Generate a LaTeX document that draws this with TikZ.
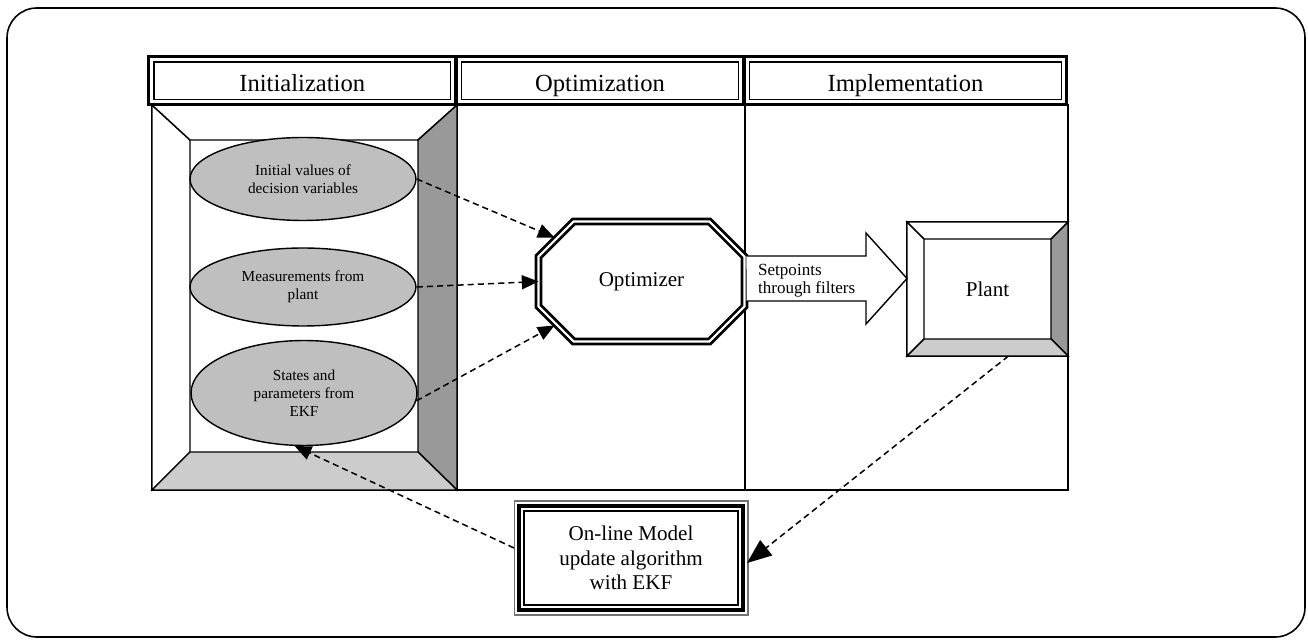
\documentclass[tikz,border=0pt]{standalone}
\usepackage{fontspec}
\setmainfont{Liberation Serif}
\usetikzlibrary{arrows.meta, positioning, shapes.geometric, calc}

\begin{document}
\begin{tikzpicture}[
    x=0.02cm, y=-0.02cm, line width=0.8pt,
    hdr/.style={draw, line width=1.7pt, outer sep=0pt, inner sep=0pt, minimum height=0.96cm, text height=13pt, text depth=0pt, font=\fontsize{14}{16}\selectfont},
    src/.style={ellipse, draw, fill=black!25, minimum width=4.52cm, inner sep=0pt, align=center, font=\fontsize{8.7}{10.2}\selectfont},
    proc/.style={align=center, inner sep=0pt, outer sep=0pt, font=\fontsize{12}{14}\selectfont},
    dbl/.style={draw, double, double distance=1.2pt, line width=1.6pt},
    darkside/.style={draw, fill=black!40},
    lightside/.style={draw, fill=black!20},
    dasharr/.style={-{Triangle[length=9.5pt,width=8pt]}, dash pattern=on 3.5pt off 2.3pt, line width=0.85pt},
]
\useasboundingbox (0,0) rectangle (1308,641);

% frame
\draw[line width=0.9pt, rounded corners=17pt] (7,8) rectangle (1305,637);

% columns
\draw (152,105) rectangle (1068,490);
\draw (457,105) -- (457,490);
\draw (745,105) -- (745,490);

% initialization frame
\draw[fill=white] (152,105) -- (190,140) -- (190,452) -- (152,490) -- cycle;
\draw[fill=white] (152,105) -- (190,140) -- (418,140) -- (457,105) -- cycle;
\draw[darkside] (457,105) -- (418,140) -- (418,452) -- (457,490) -- cycle;
\draw[lightside] (152,490) -- (190,452) -- (418,452) -- (457,490) -- cycle;

% headers
\node[hdr, minimum width=6.15cm] (hinit) at (302.25,80.5) {Initialization};
\node[hdr, minimum width=5.76cm] (hopt) at (600,80.5) {Optimization};
\node[hdr, minimum width=6.46cm] (himp) at (905.5,80.5) {Implementation};
\foreach \h in {hinit,hopt,himp}
    \draw[line width=0.9pt] ($(\h.north west)+(5.5,5.5)$) rectangle ($(\h.south east)+(-5.5,-5)$);

% sources
\node[src, minimum height=1.66cm] (e1) at (303,179) {Initial values of\\decision variables};
\node[src, minimum height=1.56cm] (e2) at (303,287) {Measurements from\\plant};
\node[src, minimum height=2.1cm] (e3) at (304,393) {States and\\parameters from\\EKF};

% optimizer
\node[proc, minimum width=4.12cm, minimum height=2.4cm] (opt) at (641.5,281.5) {Optimizer};
\draw[dbl] ($(opt.north west)+(35,0)$) -- ($(opt.north east)+(-35,0)$) -- ($(opt.north east)+(0,35)$)
    -- ($(opt.south east)+(0,-35)$) -- ($(opt.south east)+(-35,0)$) -- ($(opt.south west)+(35,0)$)
    -- ($(opt.south west)+(0,-35)$) -- ($(opt.north west)+(0,35)$) -- cycle;
\coordinate (opt-nw) at ($(opt.north west)+(16,16)$);
\coordinate (opt-sw) at ($(opt.south west)+(16,-16)$);

% plant
\node[proc, draw, minimum width=3.22cm, minimum height=2.68cm] (plant) at (987.5,289) {Plant};
\draw[fill=white] (plant.north west) -- ($(plant.north west)+(17,17)$) -- ($(plant.south west)+(17,-17)$) -- (plant.south west) -- cycle;
\draw[fill=white] (plant.north west) -- ($(plant.north west)+(17,17)$) -- ($(plant.north east)+(-17,17)$) -- (plant.north east) -- cycle;
\draw[darkside] (plant.north east) -- ($(plant.north east)+(-17,17)$) -- ($(plant.south east)+(-17,-17)$) -- (plant.south east) -- cycle;
\draw[lightside] (plant.south west) -- ($(plant.south west)+(17,-17)$) -- ($(plant.south east)+(-17,-17)$) -- (plant.south east) -- cycle;

% setpoints
\coordinate (ta) at ($(opt.east)+(2,-3)$);
\draw[fill=white] (ta) ++(0,-22.5) -- ++(119.5,0) -- ++(0,-23) -- (plant.west |- ta) -- ++(-41,45.5) -- ++(0,-23) -- ++(-119.5,0);
\node[anchor=west, align=left, inner sep=0pt, font=\fontsize{9.7}{10.3}\selectfont] (sptxt) at ($(ta)+(11,2.5)$) {Setpoints\\through filters};

% model update
\node[proc, draw, line width=2pt, minimum width=4.48cm, minimum height=2.08cm] (mdl) at (631,558)
    {On-line Model\\update algorithm\\with EKF};
\draw[black!55, line width=0.6pt] ($(mdl.south west)+(-5,5)$) rectangle ($(mdl.north east)+(5,-5)$);
\draw[line width=0.9pt] ($(mdl.south west)+(5,-5)$) rectangle ($(mdl.north east)+(-5,5)$);

% arrows
\draw[dasharr] (e1.east) -- (opt-nw);
\draw[dasharr] (e2.east) -- (opt.west);
\draw[dasharr] (e3.-4) -- (opt-sw);
\draw[dasharr, -{Triangle[length=14pt,width=11pt]}] ($(plant.south)+(21,0)$) -- ($(mdl.east)+(4,5)$);
\draw[dasharr] ($(mdl.west)+(-5,-10)$) -- (e3.260);

\end{tikzpicture}
\end{document}
